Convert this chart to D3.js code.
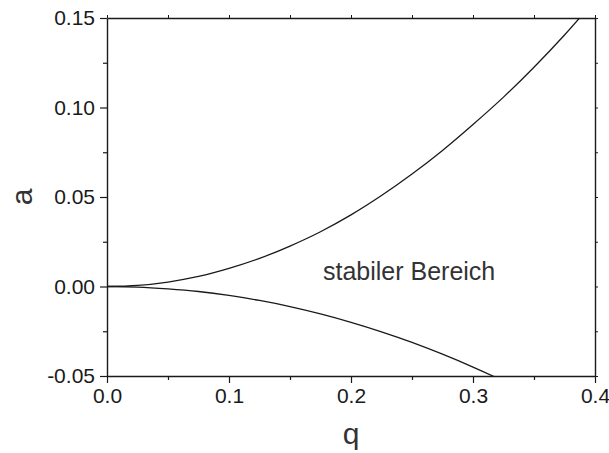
<!DOCTYPE html>
<html>
<head>
<meta charset="utf-8">
<script src="https://cdn.jsdelivr.net/npm/d3@7"></script>
<style>
  html, body { margin: 0; padding: 0; background: #fff; }
  svg { display: block; font-family: "Liberation Sans", Arial, sans-serif; }
</style>
</head>
<body>
<svg id="chart" width="609" height="453"></svg>
<script>
// Values
const qValues = [0, 0.025, 0.05, 0.075, 0.1, 0.125, 0.15, 0.175, 0.2, 0.225, 0.25, 0.275, 0.3, 0.325, 0.35, 0.375, 0.4];
const upperA  = [0, 0.0006, 0.0025, 0.0056, 0.0101, 0.0157, 0.0226, 0.0306, 0.0400, 0.0508, 0.0628, 0.0760, 0.0905, 0.1058, 0.1225, 0.1405, 0.1600];
const lowerA  = [0, -0.0003, -0.0013, -0.0028, -0.0050, -0.0078, -0.0112, -0.0153, -0.0200, -0.0253, -0.0312, -0.0378, -0.0450, -0.0528, -0.0612, -0.0703, -0.0800];
const xTicks = [0, 0.1, 0.2, 0.3, 0.4];
const xTickLabels = ["0.0", "0.1", "0.2", "0.3", "0.4"];
const yTicks = [-0.05, 0, 0.05, 0.10, 0.15];
const yTickLabels = ["-0.05", "0.00", "0.05", "0.10", "0.15"];
const annotation = "stabiler Bereich";
const xLabel = "q";
const yLabel = "a";

const margin = {left: 107, right: 14, top: 18, bottom: 77};
const W = 609, H = 453;
const x = d3.scaleLinear().domain([0, 0.4]).range([margin.left, W - margin.right]);
const y = d3.scaleLinear().domain([-0.05, 0.15]).range([H - margin.bottom, margin.top]);

const svg = d3.select("#chart");
const ink = "#1a1a1a";

svg.append("defs").append("clipPath").attr("id", "plotclip")
  .append("rect")
  .attr("x", x(0)).attr("y", y(0.15))
  .attr("width", x(0.4) - x(0)).attr("height", y(-0.05) - y(0.15));

// minor ticks
const xMinor = d3.range(0.05, 0.4, 0.1);
const yMinor = [-0.025, 0.025, 0.075, 0.125];
const xAll = d3.range(0, 0.4001, 0.05);
const yAll = d3.range(-0.05, 0.1501, 0.025);

function styleAxis(g) {
  g.selectAll("path.domain").attr("stroke", ink).attr("stroke-width", 1.4);
  g.selectAll(".tick line").attr("stroke", ink).attr("stroke-width", 1.2);
  g.selectAll("text").attr("fill", ink).style("font-size", "21px");
}

// bottom axis major
const gx = svg.append("g").attr("transform", `translate(0,${y(-0.05)})`)
  .call(d3.axisBottom(x).tickValues(xTicks).tickSizeInner(7).tickSizeOuter(0)
        .tickFormat((d, i) => xTickLabels[i]));
styleAxis(gx);
gx.selectAll("text").attr("y", 12);
svg.append("g").attr("transform", `translate(0,${y(-0.05)})`)
  .call(d3.axisBottom(x).tickValues(xMinor).tickSize(4).tickFormat(""))
  .call(g => { g.select(".domain").remove(); g.selectAll("line").attr("stroke", ink).attr("stroke-width", 1.2); });

// left axis major
const gy = svg.append("g").attr("transform", `translate(${x(0)},0)`)
  .call(d3.axisLeft(y).tickValues(yTicks).tickSizeInner(7).tickSizeOuter(0)
        .tickFormat((d, i) => yTickLabels[i]));
styleAxis(gy);
gy.selectAll("text").attr("x", -12);
svg.append("g").attr("transform", `translate(${x(0)},0)`)
  .call(d3.axisLeft(y).tickValues(yMinor).tickSize(4).tickFormat(""))
  .call(g => { g.select(".domain").remove(); g.selectAll("line").attr("stroke", ink).attr("stroke-width", 1.2); });

// top axis
svg.append("g").attr("transform", `translate(0,${y(0.15)})`)
  .call(d3.axisTop(x).tickValues(xAll).tickSizeInner(3).tickSizeOuter(0).tickFormat(""))
  .call(g => { g.select(".domain").attr("stroke", ink).attr("stroke-width", 1.4); g.selectAll("line").attr("stroke", ink).attr("stroke-width", 1); });

// right axis
svg.append("g").attr("transform", `translate(${x(0.4)},0)`)
  .call(d3.axisRight(y).tickValues(yAll).tickSizeInner(3).tickSizeOuter(0).tickFormat(""))
  .call(g => { g.select(".domain").attr("stroke", ink).attr("stroke-width", 1.4); g.selectAll("line").attr("stroke", ink).attr("stroke-width", 1); });

// curves
const line = d3.line().x(d => x(d[0])).y(d => y(d[1])).curve(d3.curveMonotoneX);
const plot = svg.append("g").attr("clip-path", "url(#plotclip)");
[upperA, lowerA].forEach(series => {
  plot.append("path")
    .datum(qValues.map((q, i) => [q, series[i]]))
    .attr("fill", "none")
    .attr("stroke", ink)
    .attr("stroke-width", 1.3)
    .attr("d", line);
});

// annotation
svg.append("text")
  .attr("x", x(0.177)).attr("y", y(0.0039))
  .attr("fill", "#333")
  .style("font-size", "25px")
  .text(annotation);

// axis labels
svg.append("text")
  .attr("x", x(0.2)).attr("y", 444)
  .attr("text-anchor", "middle")
  .attr("fill", "#333")
  .style("font-size", "30px")
  .text(xLabel);

svg.append("text")
  .attr("transform", `translate(32,${(y(0.15) + y(-0.05)) / 2}) rotate(-90)`)
  .attr("text-anchor", "middle")
  .attr("fill", "#333")
  .style("font-size", "30px")
  .text(yLabel);
</script>
</body>
</html>
